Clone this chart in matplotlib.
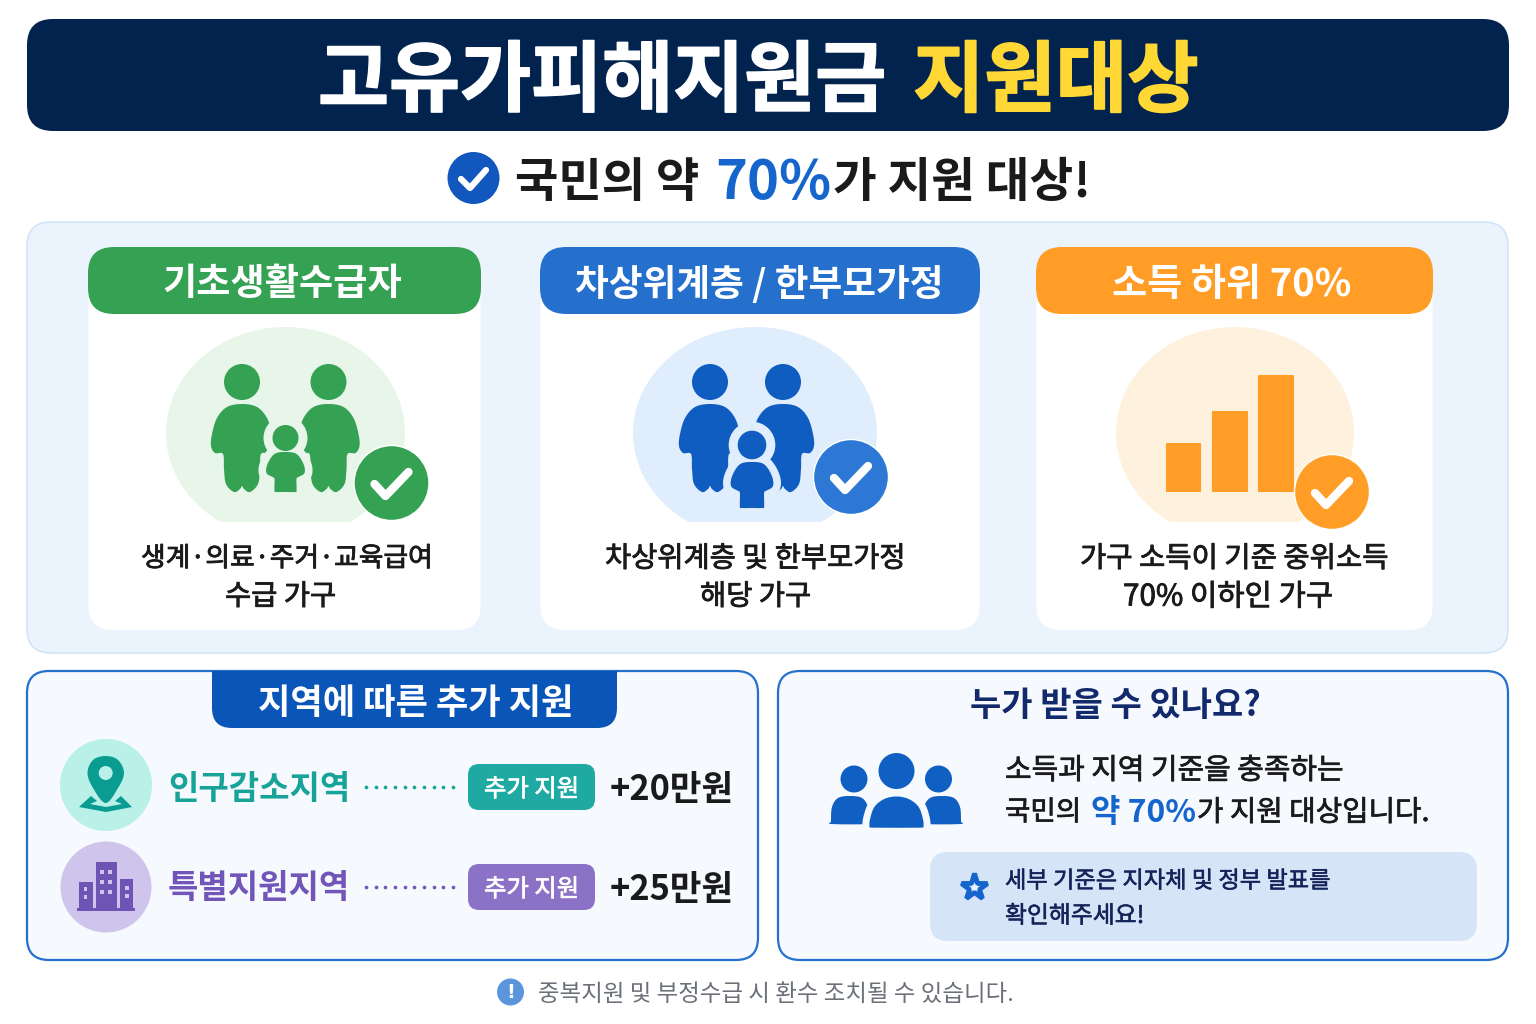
import numpy as np
import matplotlib
matplotlib.use("Agg")
import matplotlib.pyplot as plt
import matplotlib.patheffects as pe
from matplotlib.patches import FancyBboxPatch, Circle, Ellipse, Rectangle, Polygon

plt.rcParams['font.family'] = ['Noto Sans CJK KR', 'DejaVu Sans']

# textos y valores
title_white = "고유가피해지원금"
title_yellow = "지원대상"
sub_parts = ["국민의 약", "70%", "가 지원 대상!"]
card_titles = ["기초생활수급자", "차상위계층 / 한부모가정", "소득 하위 70%"]
card_lines = [
    ["생계·의료·주거·교육급여", "수급 가구"],
    ["차상위계층 및 한부모가정", "해당 가구"],
    ["가구 소득이 기준 중위소득", "70% 이하인 가구"],
]
bar_heights = [49, 81, 117]
region_names = ["인구감소지역", "특별지원지역"]
region_amounts = ["+20만원", "+25만원"]
pill_label = "추가 지원"
left_title = "지역에 따른 추가 지원"
right_title = "누가 받을 수 있나요?"
right_line1 = "소득과 지역 기준을 충족하는"
right_line2 = ["국민의", "약 70%", "가 지원 대상입니다."]
note_lines = ["세부 기준은 지자체 및 정부 발표를", "확인해주세요!"]
footer = "중복지원 및 부정수급 시 환수 조치될 수 있습니다."

NAVY = '#03234F'
YELLOW = '#FFD835'
BLUE = '#1565CC'
GREEN = '#34A153'
CARD_BLUE = '#2470CC'
ORANGE = '#FF9D27'
TEAL = '#17A398'
PURPLE = '#7155B8'
DARK = '#1A1A1A'

fig = plt.figure(figsize=(15.36, 10.24), dpi=100)
ax = fig.add_axes([0, 0, 1, 1])
ax.set_xlim(0, 1536)
ax.set_ylim(1024, 0)
ax.axis('off')
renderer = fig.canvas.get_renderer()


def rbox(x0, y0, x1, y1, r, fc, ec='none', lw=0, z=1):
    p = FancyBboxPatch((x0 + r, y0 + r), x1 - x0 - 2 * r, y1 - y0 - 2 * r,
                       boxstyle=f"round,pad={r},rounding_size={r}",
                       fc=fc, ec=ec, lw=lw, zorder=z)
    ax.add_patch(p)
    return p


def fit(x0, x1, y, s, color=DARK, weight='bold', z=10, stroke=0):
    # ajusta el tamaño de letra hasta que el texto ocupe de x0 a x1
    t = ax.text(x0, y, s, color=color, fontweight=weight, fontsize=20,
                ha='left', va='center', zorder=z)
    w = t.get_window_extent(renderer).width
    fs = 20 * (x1 - x0) / w
    t.set_fontsize(fs)
    # el centro de la caja queda alto, se baja un poco
    t.set_y(y + 0.1 * fs * 100 / 72)
    if stroke:
        t.set_path_effects([pe.withStroke(linewidth=stroke, foreground=color)])
    return t


def smooth(points, n=14):
    # curva cerrada Catmull-Rom por los puntos
    pts = np.array(points, dtype=float)
    out = []
    for i in range(len(pts)):
        p0, p1, p2, p3 = pts[i - 1], pts[i], pts[(i + 1) % len(pts)], pts[(i + 2) % len(pts)]
        for t in np.linspace(0, 1, n, endpoint=False):
            out.append(0.5 * (2 * p1 + (p2 - p0) * t + (2 * p0 - 5 * p1 + 4 * p2 - p3) * t ** 2
                              + (3 * p1 - p0 - 3 * p2 + p3) * t ** 3))
    return np.array(out)


def mirrored(half):
    right = [(x, y) for x, y in half]
    left = [(-x, y) for x, y in reversed(half) if x != 0]
    return right + left


ADULT = mirrored([(0, 0), (15, 3), (25, 14), (30, 30), (31, 42), (27, 49), (19, 50),
                  (18, 65), (16, 80), (8, 88), (2, 85), (0, 82)])
CHILD = mirrored([(0, 0), (11, 2), (18, 12), (19, 21), (13, 25), (11, 27), (11, 39), (9, 40), (0, 40)])


def shape(points, cx, top, sx=1.0, sy=1.0, fc=GREEN, ec='none', lw=0, z=4):
    xy = smooth(points) * [sx, sy] + [cx, top]
    ax.add_patch(Polygon(xy, closed=True, fc=fc, ec=ec, lw=lw, zorder=z, joinstyle='round'))


def family(xl, xr, head_r, head_y, body_y, child_x, child_head_y, child_top, child_sy, child_s, color, halo):
    for x in (xl, xr):
        ax.add_patch(Circle((x, head_y), head_r, fc=color, ec='none', zorder=4))
        shape(ADULT, x, body_y, fc=color)
    # halo del niño encima de los adultos
    ax.add_patch(Circle((child_x, child_head_y), 13 * child_s + 9, fc=halo, ec='none', zorder=5))
    shape(CHILD, child_x, child_top, child_s, child_sy, fc=halo, ec=halo, lw=11, z=5)
    ax.add_patch(Circle((child_x, child_head_y), 13 * child_s, fc=color, ec='none', zorder=6))
    shape(CHILD, child_x, child_top, child_s, child_sy, fc=color, z=6)


def check_badge(cx, cy, color):
    ax.add_patch(Circle((cx, cy), 37.5, fc=color, ec='white', lw=1, zorder=8))
    ax.plot([cx - 17, cx - 6, cx + 17], [cy + 1, cy + 13, cy - 11], color='white', lw=6,
            solid_capstyle='round', solid_joinstyle='round', zorder=9)


def blob(x0, x1, color):
    e = Ellipse(((x0 + x1) / 2, 433), x1 - x0, 212, fc=color, ec='none', zorder=3)
    ax.add_patch(e)
    e.set_clip_path(Rectangle((0, 0), 1536, 522, transform=ax.transData))


# cabecera
rbox(27, 19, 1509, 131, 26, NAVY)
fit(318, 885, 75, title_white, 'white', weight='black', stroke=1.2)
fit(913, 1198, 75, title_yellow, YELLOW, weight='black', stroke=1.2)

# subtítulo
ax.add_patch(Circle((473.5, 178), 26, fc='#1257BE', zorder=4))
ax.plot([461, 470, 486], [179, 188, 170], color='white', lw=4.5, solid_capstyle='round',
        solid_joinstyle='round', zorder=5)
fit(515, 699, 178, sub_parts[0], DARK)
fit(715, 831, 178, sub_parts[1], BLUE)
fit(833, 1090, 178, sub_parts[2], DARK)

# panel de tarjetas
rbox(27, 222, 1508, 653, 24, '#EBF3FC', '#D3E4F8', 1.2)
card_x = [(88, 481), (540, 980), (1036, 1433)]
card_colors = [GREEN, CARD_BLUE, ORANGE]
title_x = [(162, 401), (575, 943), (1112, 1351)]
line_x = [[(141, 432), (225, 336)], [(605, 905), (700, 811)], [(1080, 1388), (1123, 1333)]]
for i in range(3):
    x0, x1 = card_x[i]
    rbox(x0 + 0.5, 270, x1 - 0.5, 630, 24, 'white', z=2)
    rbox(x0, 247, x1, 314, 26, card_colors[i], z=3)
    fit(title_x[i][0], title_x[i][1], 281, card_titles[i], 'white')
    for j, yy in enumerate([556, 594]):
        fit(line_x[i][j][0], line_x[i][j][1], yy, card_lines[i][j], DARK, 'regular', stroke=0.6)

# iconos de las tarjetas
blob(166, 405, '#E8F5E9')
family(242, 328.5, 18, 382, 404, 285.5, 438, 452, 1.0, 1.0, GREEN, '#E8F5E9')
check_badge(391.5, 483, GREEN)

blob(633, 877, '#DFEDFC')
family(710, 783, 18, 382, 404, 752, 445, 462, 1.15, 1.1, '#0F5DC0', '#DFEDFC')
check_badge(851, 477, '#2C78D4')

blob(1116, 1354, '#FEF1DE')
# el borde redondea las esquinas y añade 1 px por lado
ax.bar([1183.5, 1230, 1276], [-(h - 2) for h in bar_heights], width=33.5, bottom=491, color=ORANGE,
       edgecolor=ORANGE, linewidth=1.5, joinstyle='round', zorder=4)
check_badge(1332, 492, ORANGE)

# panel izquierdo
rbox(27, 671, 758, 960, 22, '#F6F9FE', '#2470CC', 1.6)
tab = rbox(212, 640, 617, 728, 20, '#0A55B8', z=2)
tab.set_clip_path(Rectangle((0, 671), 1536, 100, transform=ax.transData))
fit(258, 573, 700, left_title, 'white')

ax.add_patch(Circle((106, 785), 46, fc='#B9F0E8', zorder=3))
ax.add_patch(Circle((106, 887), 45.5, fc='#CFC5EC', zorder=3))

# pin y mapa
pin = smooth([(105.7, 756), (118, 760), (124, 773), (118, 788), (105.7, 803), (93, 788), (87.5, 773), (93, 760)])
ax.add_patch(Polygon(pin, closed=True, fc='#0A9C90', zorder=4))
ax.add_patch(Circle((105.7, 773), 7, fc='#B9F0E8', zorder=5))
ax.add_patch(Polygon([(79, 807), (91, 796), (97, 801), (90, 804), (106, 807), (122, 804), (115, 801),
                      (121, 796), (132, 807), (106, 812)], closed=True, fc='#0A9C90', zorder=4))

# edificios
building_color = '#6E55B5'
ax.add_patch(Rectangle((79, 882), 14, 27, fc=building_color, zorder=4))
ax.add_patch(Rectangle((96, 862), 21, 47, fc=building_color, zorder=4))
ax.add_patch(Rectangle((120, 879), 13, 30, fc=building_color, zorder=4))
ax.add_patch(Rectangle((77, 908), 58, 3, fc=building_color, zorder=4))
for wx in (101, 109):
    for wy in (871, 881, 891):
        ax.add_patch(Rectangle((wx - 1.5, wy - 1.5), 4, 4, fc='#CFC5EC', zorder=5))
for wy in (887, 895):
    ax.add_patch(Rectangle((84, wy), 3, 4, fc='#CFC5EC', zorder=5))
    ax.add_patch(Rectangle((124.5, wy - 1), 4, 4, fc='#CFC5EC', zorder=5))

region_y = [786, 885]
region_colors = [TEAL, PURPLE]
pill_colors = ['#1FA9A3', '#8C72C6']
for i in range(2):
    yy = region_y[i]
    fit(168, 350, yy, region_names[i], region_colors[i])
    dot_y = [787, 887][i]
    ax.scatter(np.linspace(366, 453, 10), [dot_y] * 10, s=7, color=region_colors[i], zorder=4, linewidths=0)
    rbox(468, dot_y - 23, 595, dot_y + 23, 11, pill_colors[i], z=3)
    fit(484, 579, dot_y, pill_label, 'white', 'regular', stroke=0.5)
    fit(610, 734, dot_y - 1, region_amounts[i], DARK)

# panel derecho
rbox(778, 671, 1508, 960, 22, '#F6F9FE', '#2470CC', 1.6)
fit(970, 1260, 702, right_title, '#12296B')

people = '#1060C4'
dome = [(0, 0), (14, 3), (25, 12), (30, 26), (30.5, 36), (30, 38), (-30, 38), (-30.5, 36), (-30, 26), (-25, 12), (-14, 3)]
side = [(0, 0), (12, 2), (18, 11), (19, 25), (18.5, 28), (-18.5, 28), (-19, 25), (-18, 11), (-12, 2)]
for x in (850, 942):
    xy = smooth(side, 10) + [x, 796]
    ax.add_patch(Polygon(xy, closed=True, fc=people, zorder=3))
for x in (854, 938.5):
    ax.add_patch(Circle((x, 779), 13.5, fc=people, zorder=3))
ax.add_patch(Polygon(smooth(dome, 10) + [896.5, 793], closed=True, fc=people, ec='#F6F9FE', lw=5, zorder=4))
ax.add_patch(Circle((896.5, 771), 18, fc=people, zorder=4))

fit(1005, 1343, 768, right_line1, DARK, 'regular', stroke=0.5)
fit(1005, 1081, 810, right_line2[0], DARK, 'regular', stroke=0.5)
fit(1091, 1196, 810, right_line2[1], BLUE)
fit(1197, 1429, 810, right_line2[2], DARK, 'regular', stroke=0.5)

rbox(930, 852, 1477, 941, 18, '#D5E4F6', z=2)
ax.plot([974], [887], marker='*', ms=20, mfc='#E6EFFB', mec=BLUE, mew=3.5, zorder=4)
fit(1005, 1330, 879, note_lines[0], '#14245A', 'regular', stroke=0.4)
fit(1005, 1144, 914, note_lines[1], '#14245A', 'regular', stroke=0.4)

# pie
ax.add_patch(Circle((510.5, 992), 13.5, fc='#5B95DC', zorder=3))
ax.text(510.5, 992, "!", color='white', fontsize=14, fontweight='bold', family='DejaVu Sans',
        ha='center', va='center', zorder=4)
fit(538, 1012, 992, footer, '#6B7078', 'regular')

fig.savefig('out.png', dpi=100, facecolor='white')
